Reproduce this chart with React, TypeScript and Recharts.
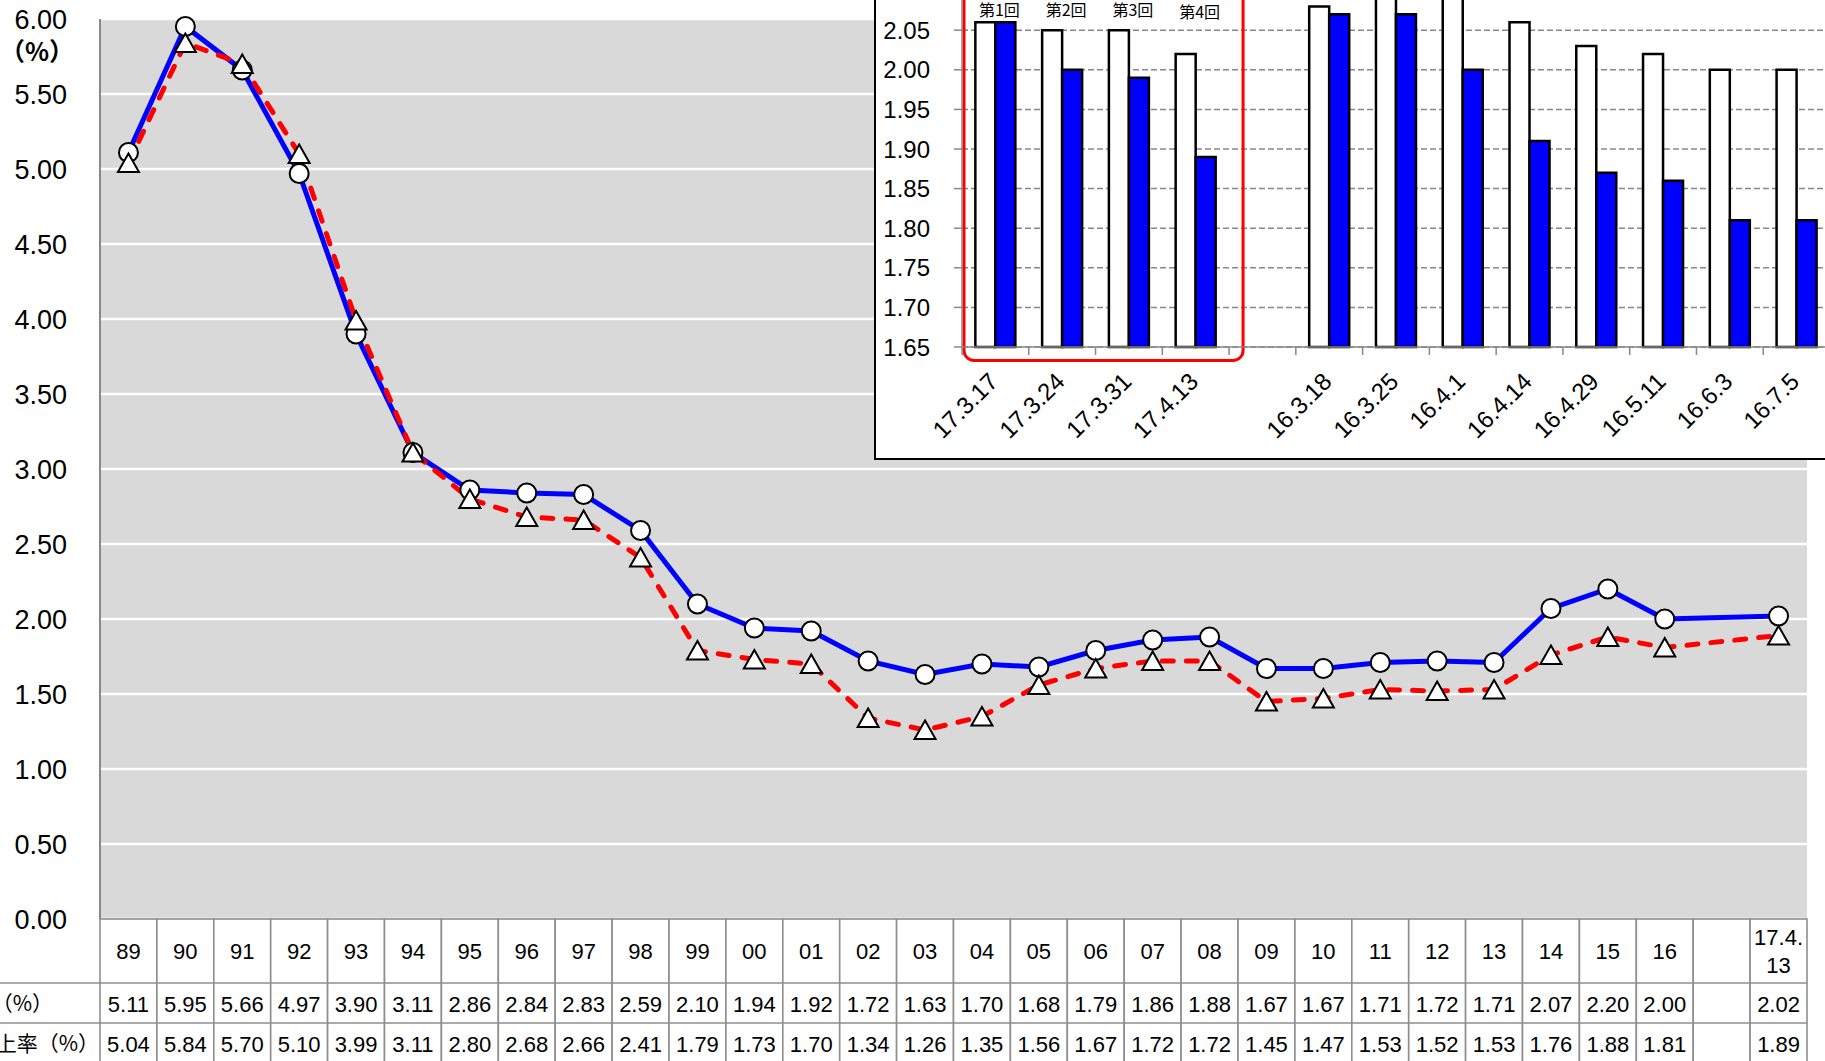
import React from "react";
import {
  LineChart,
  Line,
  XAxis,
  YAxis,
  CartesianGrid,
  BarChart,
  Bar,
  ReferenceArea,
  ReferenceDot,
} from "recharts";

// main chart: years, two rows of the table
const years = [
  "89", "90", "91", "92", "93", "94", "95", "96", "97", "98", "99", "00", "01", "02", "03",
  "04", "05", "06", "07", "08", "09", "10", "11", "12", "13", "14", "15", "16", " ", "17.4.13",
];
const yieldPct = [
  5.11, 5.95, 5.66, 4.97, 3.9, 3.11, 2.86, 2.84, 2.83, 2.59, 2.1, 1.94, 1.92, 1.72, 1.63,
  1.7, 1.68, 1.79, 1.86, 1.88, 1.67, 1.67, 1.71, 1.72, 1.71, 2.07, 2.2, 2.0, null, 2.02,
];
const risePct = [
  5.04, 5.84, 5.7, 5.1, 3.99, 3.11, 2.8, 2.68, 2.66, 2.41, 1.79, 1.73, 1.7, 1.34, 1.26,
  1.35, 1.56, 1.67, 1.72, 1.72, 1.45, 1.47, 1.53, 1.52, 1.53, 1.76, 1.88, 1.81, null, 1.89,
];
const yTicks = [0, 0.5, 1, 1.5, 2, 2.5, 3, 3.5, 4, 4.5, 5, 5.5, 6];
const rowLabels = ["（%）", "上率（%）"];

// inset chart
const insetDates = [
  "17.3.17", "17.3.24", "17.3.31", "17.4.13", " ",
  "16.3.18", "16.3.25", "16.4.1", "16.4.14", "16.4.29", "16.5.11", "16.6.3", "16.7.5",
];
const insetWhite = [2.06, 2.05, 2.05, 2.02, null, 2.08, 2.1, 2.11, 2.06, 2.03, 2.02, 2.0, 2.0];
const insetBlue = [2.06, 2.0, 1.99, 1.89, null, 2.07, 2.07, 2.0, 1.91, 1.87, 1.86, 1.81, 1.81];
const insetTicks = [1.65, 1.7, 1.75, 1.8, 1.85, 1.9, 1.95, 2.0, 2.05, 2.1];
const roundLabels = ["第1回", "第2回", "第3回", "第4回"];
const roundLabelY = [2.076, 2.076, 2.076, 2.073];

const mainData = years.map((year, i) => ({ year, yield: yieldPct[i], rise: risePct[i] }));
const insetData = insetDates.map((date, i) => ({ date, white: insetWhite[i], blue: insetBlue[i] }));

const FONT = '"Liberation Sans", Arial, sans-serif';
const CJK = '"Noto Sans CJK JP", "Noto Sans", sans-serif';
const CELL = "#8e8e8e";
const COL_W = 1707 / years.length;
const INSET_BAND = 868 / insetDates.length;

const fmt = (v: number | null) => (v == null ? "" : v.toFixed(2));

const CircleDot = (p: any) => {
  if (p.cx == null || p.cy == null || p.value == null) return <g key={p.key} />;
  return <circle key={p.key} cx={p.cx} cy={p.cy} r={9.5} fill="#fff" stroke="#000" strokeWidth={2} />;
};

const TriDot = (p: any) => {
  if (p.cx == null || p.cy == null || p.value == null) return <g key={p.key} />;
  const { cx, cy } = p;
  return (
    <polygon
      key={p.key}
      points={`${cx},${cy - 9.5} ${cx + 10.5},${cy + 9} ${cx - 10.5},${cy + 9}`}
      fill="#fff"
      stroke="#000"
      strokeWidth={2}
      strokeLinejoin="miter"
    />
  );
};

// x axis tick = one column of the data table under the chart
const TableTick = (p: any) => {
  const { x, y, payload, index } = p;
  const left = x - COL_W / 2;
  const label = String(payload.value).trim();
  const lines = label.length > 5 ? [label.slice(0, 5), label.slice(5)] : [label];
  return (
    <g fontFamily={FONT} fontSize={22} fill="#000">
      {index === 0 && (
        <g>
          <line x1={0} x2={left} y1={y + 64} y2={y + 64} stroke={CELL} strokeWidth={1.6} />
          <line x1={0} x2={left} y1={y + 104} y2={y + 104} stroke={CELL} strokeWidth={1.6} />
          <text x={53} y={y + 92} textAnchor="end" fontFamily={CJK} fontSize={21}>
            {rowLabels[0]}
          </text>
          <text x={99} y={y + 132} textAnchor="end" fontFamily={CJK} fontSize={21}>
            {rowLabels[1]}
          </text>
        </g>
      )}
      <rect x={left} y={y} width={COL_W} height={170} fill="#fff" stroke={CELL} strokeWidth={1.6} />
      <line x1={left} x2={left + COL_W} y1={y + 64} y2={y + 64} stroke={CELL} strokeWidth={1.6} />
      <line x1={left} x2={left + COL_W} y1={y + 104} y2={y + 104} stroke={CELL} strokeWidth={1.6} />
      {lines.length === 1 ? (
        <text x={x} y={y + 40} textAnchor="middle">{lines[0]}</text>
      ) : (
        <>
          <text x={x} y={y + 26} textAnchor="middle">{lines[0]}</text>
          <text x={x} y={y + 54} textAnchor="middle">{lines[1]}</text>
        </>
      )}
      <text x={x} y={y + 93} textAnchor="middle">{fmt(yieldPct[index])}</text>
      <text x={x} y={y + 133} textAnchor="middle">{fmt(risePct[index])}</text>
    </g>
  );
};

const InsetTick = (p: any) => {
  const { x, y, payload } = p;
  const tx = x + 4;
  const ty = y + 36;
  return (
    <g>
      <line x1={x - INSET_BAND / 2} x2={x - INSET_BAND / 2} y1={y} y2={y + 8} stroke="#888" strokeWidth={1.5} />
      <text
        x={tx}
        y={ty}
        transform={`rotate(-45, ${tx}, ${ty})`}
        textAnchor="end"
        fontFamily={FONT}
        fontSize={24}
        fill="#000"
      >
        {String(payload.value).trim()}
      </text>
    </g>
  );
};

const RedBox = (p: any) => (
  <rect
    x={p.x + 2}
    y={p.y}
    width={p.width + 12}
    height={p.height}
    rx={10}
    ry={10}
    fill="none"
    stroke="#ff0000"
    strokeWidth={3}
  />
);

export default function App() {
  return (
    <div
      style={{
        position: "absolute",
        left: 0,
        top: 0,
        width: 1825,
        height: 1061,
        overflow: "hidden",
        background: "#fff",
      }}
    >
      <div style={{ position: "absolute", left: 0, top: 0 }}>
        <LineChart width={1825} height={1061} data={mainData} margin={{ top: 19, right: 18, left: 0, bottom: 0 }}>
          <CartesianGrid vertical={false} stroke="#fff" strokeWidth={2.5} fill="#d9d9d9" />
          <XAxis
            dataKey="year"
            scale="band"
            interval={0}
            height={142}
            tickLine={false}
            axisLine={false}
            tickSize={0}
            tickMargin={0}
            tick={(p: any) => <TableTick {...p} />}
          />
          <YAxis
            width={100}
            domain={[0, 6]}
            ticks={yTicks}
            interval={0}
            tickFormatter={(v: number) => v.toFixed(2)}
            tickLine={false}
            tickSize={0}
            tickMargin={33}
            axisLine={{ stroke: "#898989", strokeWidth: 2 }}
            tick={{ fill: "#000", fontSize: 27, fontFamily: FONT }}
            label={{
              content: (lp: any) => (
                <text
                  x={(lp.viewBox?.x ?? 0) + 37}
                  y={(lp.viewBox?.y ?? 19) + 42}
                  textAnchor="middle"
                  fontFamily={CJK}
                  fontWeight="bold"
                  fontSize={25}
                  fill="#000"
                >
                  （%）
                </text>
              ),
            }}
          />
          <Line
            type="linear"
            dataKey="yield"
            stroke="#0000ff"
            strokeWidth={5}
            dot={CircleDot}
            activeDot={false}
            connectNulls
            isAnimationActive={false}
          />
          <Line
            type="linear"
            dataKey="rise"
            stroke="#ff0000"
            strokeWidth={5}
            strokeDasharray="11 13"
            strokeLinecap="round"
            dot={TriDot}
            activeDot={false}
            connectNulls
            isAnimationActive={false}
          />
        </LineChart>
      </div>

      <div
        style={{
          position: "absolute",
          left: 874,
          top: -10,
          width: 1000,
          height: 470,
          background: "#fff",
          border: "2px solid #000",
          boxSizing: "border-box",
        }}
      />

      <div style={{ position: "absolute", left: 875, top: -70 }}>
        <BarChart
          width={955}
          height={529}
          data={insetData}
          margin={{ top: 21, right: 0, left: 0, bottom: 0 }}
          barCategoryGap="20%"
          barGap={0}
        >
          <CartesianGrid vertical={false} stroke="#888" strokeWidth={1.5} strokeDasharray="6 3" />
          <XAxis
            dataKey="date"
            interval={0}
            height={112}
            tickLine={false}
            tickSize={0}
            tickMargin={0}
            axisLine={{ stroke: "#888", strokeWidth: 1.5 }}
            tick={(p: any) => <InsetTick {...p} />}
          />
          <YAxis
            width={87}
            domain={[1.65, 2.15]}
            ticks={insetTicks}
            interval={0}
            tickFormatter={(v: number) => v.toFixed(2)}
            tickSize={8}
            tickMargin={24}
            tickLine={{ stroke: "#888", strokeWidth: 1.5 }}
            axisLine={{ stroke: "#888", strokeWidth: 1.5 }}
            tick={{ fill: "#000", fontSize: 24, fontFamily: FONT }}
          />
          <Bar dataKey="white" fill="#fff" stroke="#000" strokeWidth={2.5} isAnimationActive={false} />
          <Bar dataKey="blue" fill="#0000ff" stroke="#000" strokeWidth={2.5} isAnimationActive={false} />
          <ReferenceArea
            x1={insetDates[0]}
            x2={insetDates[3]}
            y1={1.633}
            y2={2.3}
            ifOverflow="visible"
            shape={RedBox}
          />
          {roundLabels.map((t, i) => (
            <ReferenceDot
              key={t}
              x={insetDates[i]}
              y={roundLabelY[i]}
              r={1}
              fill="none"
              stroke="none"
              ifOverflow="visible"
              label={{
                content: (lp: any) => (
                  <text
                    x={(lp.viewBox?.x ?? 0) + (lp.viewBox?.width ?? 0) / 2 + 4}
                    y={(lp.viewBox?.y ?? 0) + 7}
                    textAnchor="middle"
                    fontFamily={CJK}
                    fontSize={16}
                    fill="#000"
                  >
                    {t}
                  </text>
                ),
              }}
            />
          ))}
        </BarChart>
      </div>
    </div>
  );
}
